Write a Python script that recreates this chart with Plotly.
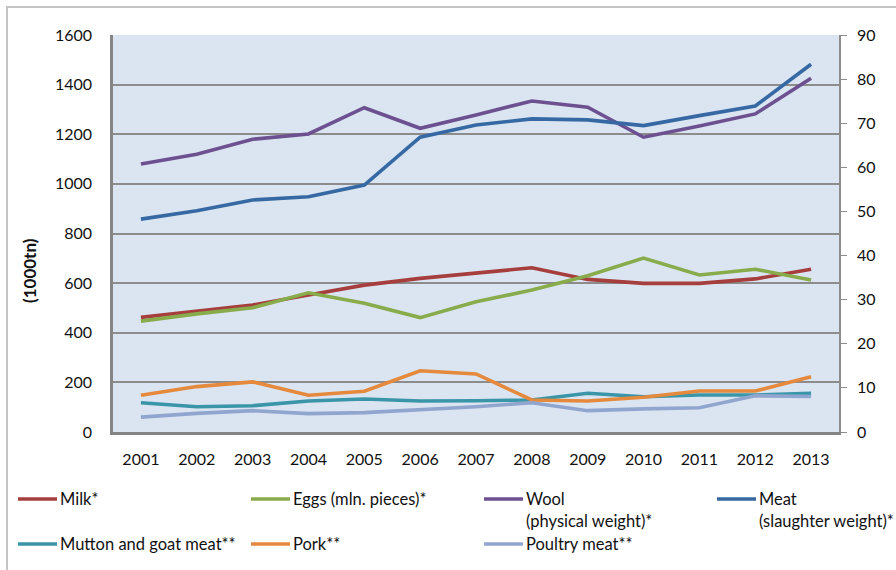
import plotly.graph_objects as go

# Production by year
years = ["2001", "2002", "2003", "2004", "2005", "2006", "2007",
         "2008", "2009", "2010", "2011", "2012", "2013"]
milk = [462, 486, 512, 552, 592, 619, 642, 662, 615, 599, 599, 617, 656]
eggs = [447, 476, 501, 561, 519, 461, 525, 572, 630, 701, 633, 656, 613]
wool = [1080, 1119, 1180, 1201, 1307, 1224, 1278, 1334, 1309, 1188, 1233, 1282, 1426]
meat = [858, 892, 935, 948, 995, 1188, 1237, 1262, 1258, 1235, 1275, 1314, 1482]
mutton = [118, 102, 106, 125, 133, 125, 126, 129, 156, 142, 149, 149, 156]
pork = [148, 183, 202, 148, 164, 247, 234, 129, 125, 140, 165, 165, 223]
poultry = [60, 75, 86, 74, 78, 89, 102, 118, 86, 93, 98, 146, 143]

series_names = ["Milk*", "Eggs (mln. pieces)*", "Wool<br>(physical weight)*",
                "Meat<br>(slaughter weight)*", "Mutton and goat meat**", "Pork**",
                "Poultry meat**"]
series_values = [milk, eggs, wool, meat, mutton, pork, poultry]
series_colors = ["#A53E3C", "#88AB4B", "#6C5090", "#3669A3", "#3B95A8", "#E5893D", "#91A6CF"]

left_ticks = [0, 200, 400, 600, 800, 1000, 1200, 1400, 1600]
right_ticks = [0, 10, 20, 30, 40, 50, 60, 70, 80, 90]

W, H = 896, 570
L, R, T, B = 113, 839, 35, 432  # plot area in pixels


def px(xp):
    return (xp - L) / (R - L)


def py(yp):
    return (B - yp) / (B - T)


FONT = "Lato"
TICK_SIZE = 16
fig = go.Figure()
for name, vals, col in zip(series_names, series_values, series_colors):
    fig.add_trace(go.Scatter(x=years, y=vals, mode="lines", name=name.replace("<br>", " "),
                             line=dict(color=col, width=3.6), showlegend=False))

# empty trace so the secondary (right) axis is rendered
fig.add_trace(go.Scatter(x=[], y=[], yaxis="y2", showlegend=False, hoverinfo="skip"))

fig.update_layout(
    width=W, height=H,
    margin=dict(l=L, r=W - R, t=T, b=H - B),
    paper_bgcolor="white",
    plot_bgcolor="#DBE5F1",
    font=dict(family=FONT, size=TICK_SIZE, color="#111111"),
    xaxis=dict(type="category", range=[-0.5, len(years) - 0.5], showgrid=False,
               showline=True, linecolor="#858585", linewidth=2.5, ticks="",
               ticklabelstandoff=11, zeroline=False),
    yaxis=dict(range=[0, 1600], tickvals=left_ticks, showgrid=True, gridcolor="#8C8C8C",
               gridwidth=1.5, showline=True, linecolor="#858585", linewidth=2.5,
               ticks="", ticklabelstandoff=15, zeroline=False),
    yaxis2=dict(range=[0, 90], tickvals=right_ticks, overlaying="y", side="right",
                anchor="x", showgrid=False, showline=True, linecolor="#8C8C8C",
                linewidth=1.5, ticks="outside", ticklen=6, tickcolor="#8C8C8C",
                ticklabelstandoff=7, zeroline=False),
)

# outer frame of the chart
fig.add_shape(type="rect", xref="paper", yref="paper",
              x0=px(7), x1=px(W + 10), y0=py(H + 10), y1=py(7),
              line=dict(color="#C4C4C4", width=2), layer="below")

# y axis title
fig.add_annotation(text="<b>(1000tn)</b>", xref="paper", yref="paper",
                   x=px(29), y=py(271), xanchor="center", yanchor="middle",
                   textangle=-90, showarrow=False,
                   font=dict(size=17, family=FONT))

# legend drawn below the plot
col_x = [18, 251, 484, 717]
row_y = [499, 544]
for i, (name, col) in enumerate(zip(series_names, series_colors)):
    r, c = divmod(i, 4)
    x0 = col_x[c]
    y0 = row_y[r]
    fig.add_shape(type="line", xref="paper", yref="paper",
                  x0=px(x0), x1=px(x0 + 39), y0=py(y0), y1=py(y0),
                  line=dict(color=col, width=3.6))
    for k, part in enumerate(name.split("<br>")):
        fig.add_annotation(text=part, xref="paper", yref="paper",
                           x=px(x0 + 40), y=py(y0 + 22 * k), xanchor="left",
                           yanchor="middle", showarrow=False,
                           font=dict(size=16.5, family=FONT))

fig.write_html("out.html")
